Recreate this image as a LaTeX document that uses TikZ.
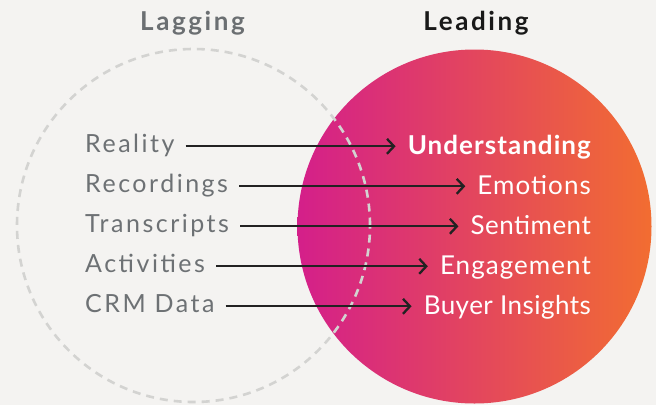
\documentclass[tikz,border=0pt]{standalone}
\usepackage{fontspec}
\setmainfont{Lato}
\usetikzlibrary{arrows.meta,calc}
\definecolor{bgc}{HTML}{F4F3F1}
\definecolor{mag}{HTML}{D41F8A}
\definecolor{org}{HTML}{F26D31}
\definecolor{dashc}{HTML}{D3D3D1}
\definecolor{lgray}{HTML}{6D7174}
\definecolor{hgray}{HTML}{6B6F72}
\definecolor{arrc}{HTML}{222222}
\tikzset{
  lbl/.style={anchor=base west,inner sep=0pt,text=lgray,font=\fontsize{25}{29}\selectfont\addfontfeatures{LetterSpace=10}},
  rlbl/.style={anchor=base east,inner sep=0pt,text=white,font=\fontsize{26}{30}\selectfont\addfontfeatures{LetterSpace=4}},
  rtight/.style={anchor=base east,inner sep=0pt,text=white,font=\fontsize{26}{30}\selectfont\addfontfeatures{LetterSpace=1.8}},
  rbold/.style={rlbl,font=\fontsize{26}{30}\selectfont\bfseries\addfontfeatures{LetterSpace=4}},
  head/.style={anchor=base,inner sep=0pt,font=\fontsize{26}{30}\selectfont\bfseries\addfontfeatures{LetterSpace=10}},
  arr/.style={draw=arrc,line width=2.3pt,-{Straight Barb[length=7pt,width=15pt,line width=2.3pt]}},
}
\begin{document}
\begin{tikzpicture}[x=1pt,y=-1pt]
\fill[bgc] (0,0) rectangle (656,405);
\useasboundingbox (0,0) rectangle (656,405);
\shade[left color=mag,right color=org] (474.5,226.5) circle[radius=177pt];
\draw[dashc,line width=2.6pt,dash pattern=on 8pt off 6pt] (193.5,225.5) circle[radius=176.5pt];
\node[head,text=hgray] (lag) at (192.5,30) {Lagging};
\node[head,text=black!90] (lead) at (476,30) {Leading};
\node[lbl] (l1) at (85,152.3) {Reality};
\node[lbl] (l2) at (85,192.3) {Recordings};
\node[lbl] (l3) at (85,232.3) {Transcripts};
\node[lbl] (l4) at (85,272.3) {Activities};
\node[lbl] (l5) at (85,312.3) {CRM Data};
\node[rbold] (r1) at (591,154) {Understanding};
\node[rlbl] (r2) at (591,194) {Emotions};
\node[rtight] (r3) at (591,234) {Sentiment};
\node[rlbl] (r4) at (591,274) {Engagement};
\node[rtight] (r5) at (591,314) {Buyer Insights};
\foreach \i in {1,...,5}{
  \draw[arr,shorten <=11pt,shorten >=12pt] ([yshift=6pt]l\i.base east) -- ([yshift=6pt]l\i.base east -| r\i.base west);
}
\end{tikzpicture}
\end{document}
